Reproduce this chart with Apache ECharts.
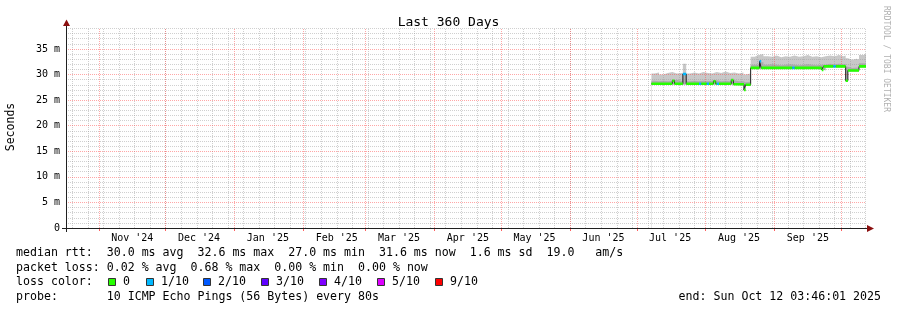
<!DOCTYPE html>
<html><head><meta charset="utf-8">
<script src="https://cdn.jsdelivr.net/npm/echarts@6/dist/echarts.min.js"></script>
<style>html,body{margin:0;padding:0;background:#fff}#c{width:897px;height:310px}</style>
</head><body><div id="c"></div>
<script>
// ---------------- data ----------------
const endTime = '2025-10-12T03:46:01';
const spanDays = 360;
const firstSunday = '2024-10-20T00:00';
const monthStarts = ['2024-11-01','2024-12-01','2025-01-01','2025-02-01','2025-03-01','2025-04-01','2025-05-01','2025-06-01','2025-07-01','2025-08-01','2025-09-01','2025-10-01'];
const monthLabels = ["Nov '24","Dec '24","Jan '25","Feb '25","Mar '25","Apr '25","May '25","Jun '25","Jul '25","Aug '25","Sep '25"];
const yTicks = [0,5,10,15,20,25,30,35];
const yTickLabels = ['0','5 m','10 m','15 m','20 m','25 m','30 m','35 m'];

// median rtt (ms), value holds from its time to the next time; loss: 0 = 0/10, 1 = 1/10
const medianTimes = ['2025-07-07T14:00','2025-07-17T00:00','2025-07-18T00:00','2025-07-21T18:00','2025-07-23T06:00','2025-07-29T00:00','2025-07-30T00:00','2025-08-01T12:00','2025-08-02T12:00','2025-08-04T12:00','2025-08-05T12:00','2025-08-06T00:00','2025-08-07T00:00','2025-08-12T12:00','2025-08-13T12:00','2025-08-18T06:00','2025-08-19T00:00','2025-08-21T06:00','2025-08-25T06:00','2025-08-26T00:00','2025-09-09T00:00','2025-09-10T00:00','2025-09-22T06:00','2025-09-23T00:00','2025-09-27T12:00','2025-09-28T12:00','2025-10-03T00:00','2025-10-04T00:00','2025-10-09T00:00','2025-10-12T03:46'];
const medianValues = [28.2,28.8,28.2,30.1,28.2,28.2,28.2,28.2,28.2,28.7,28.2,28.2,28.2,28.9,28.1,27.0,28.0,31.3,32.6,31.3,31.3,31.3,30.9,31.6,31.6,31.6,28.8,30.8,31.6,31.6];
const medianLoss   = [0,0,0,1,0,1,0,1,0,0,0,1,0,0,0,0,0,0,1,0,1,0,0,0,1,0,0,0,0,0];

// smoke (ms): bottom, top of darker band, top of light band
const smokeTimes = ['2025-07-07T14:00','2025-07-09T00:00','2025-07-11T00:00','2025-07-13T00:00','2025-07-15T00:00','2025-07-17T00:00','2025-07-19T00:00','2025-07-21T18:00','2025-07-23T06:00','2025-07-25T00:00','2025-07-27T00:00','2025-07-29T00:00','2025-07-31T00:00','2025-08-02T00:00','2025-08-04T00:00','2025-08-06T00:00','2025-08-08T00:00','2025-08-10T00:00','2025-08-12T00:00','2025-08-14T00:00','2025-08-16T00:00','2025-08-18T00:00','2025-08-19T00:00','2025-08-21T06:00','2025-08-23T00:00','2025-08-25T00:00','2025-08-27T00:00','2025-08-29T00:00','2025-08-31T00:00','2025-09-02T00:00','2025-09-04T00:00','2025-09-06T00:00','2025-09-08T00:00','2025-09-10T00:00','2025-09-12T00:00','2025-09-14T00:00','2025-09-16T00:00','2025-09-18T00:00','2025-09-20T00:00','2025-09-22T00:00','2025-09-24T00:00','2025-09-26T00:00','2025-09-28T00:00','2025-09-30T00:00','2025-10-02T00:00','2025-10-03T00:00','2025-10-04T00:00','2025-10-06T00:00','2025-10-08T00:00','2025-10-09T00:00','2025-10-11T00:00','2025-10-12T03:46'];
const smokeLow = [28.0,28.0,28.0,28.0,28.0,28.0,28.0,28.0,28.0,28.0,28.0,28.0,28.0,28.0,28.0,28.0,28.0,28.0,28.0,27.9,27.9,26.8,27.8,31.1,31.1,31.1,31.1,31.1,31.1,31.1,31.1,31.1,31.1,31.1,31.1,31.1,31.1,31.1,31.1,30.8,31.4,31.4,31.4,31.4,31.4,28.7,30.6,30.6,30.6,31.4,31.4,31.4];
const smokeMid = [28.8,28.7,28.8,28.7,28.8,29.0,28.7,30.0,28.7,28.8,28.7,28.8,28.7,28.8,28.9,28.7,28.8,28.7,28.9,28.7,28.7,28.5,28.6,31.9,31.9,32.4,31.9,32.0,31.9,31.8,31.9,32.0,31.9,31.8,31.9,32.0,31.9,31.8,31.9,31.9,32.1,32.0,32.1,32.0,32.1,31.5,31.3,31.4,31.3,32.2,32.1,32.1];
const smokeTop = [30.2,30.4,30.0,30.3,30.5,30.2,30.3,32.1,30.2,30.4,30.2,30.5,30.3,30.2,30.5,30.3,30.6,30.3,30.4,30.2,30.4,30.0,30.2,33.5,33.8,34.0,33.6,33.5,33.7,33.4,33.6,33.5,33.7,33.5,33.6,33.8,33.5,33.6,33.4,33.6,33.7,33.6,33.8,33.6,33.7,33.2,32.9,33.1,32.9,33.8,34.0,34.0];

const lossColors = ['#26ff00','#00b8ff','#0059ff','#5e00ff','#7e00ff','#dd00ff','#ff0000'];
const lossNames  = ['0','1/10','2/10','3/10','4/10','5/10','9/10'];
const legendRows = [
  'median rtt:  30.0 ms avg  32.6 ms max  27.0 ms min  31.6 ms now  1.6 ms sd  19.0   am/s',
  'packet loss: 0.02 % avg  0.68 % max  0.00 % min  0.00 % now',
  'loss color:',
  'probe:       10 ICMP Echo Pings (56 Bytes) every 80s'
];
const endLabel = 'end: Sun Oct 12 03:46:01 2025';

// ---------------- build ----------------
const DAY = 86400000;
const ts = s => Date.parse(s.length <= 10 ? s + 'T00:00:00Z' : (s.length === 16 ? s + ':00Z' : s + 'Z'));
const END = ts(endTime);
const START = END - spanDays * DAY;
const monthTs = monthStarts.map(ts);
const labelTs = monthLabels.map((_, i) => monthTs[i] + 15 * DAY);
const weekTs = [];
for (let t = ts(firstSunday); t < END; t += 7 * DAY) weekTs.push(t);

const mT = medianTimes.map(ts);
const medianLine = mT.map((t, i) => [t, medianValues[i]]);
function lossSegments(level) {
  const out = [];
  for (let i = 0; i < mT.length - 1; i++) {
    if (medianLoss[i] === level) {
      out.push([mT[i], medianValues[i]], [mT[i + 1], medianValues[i]], [mT[i + 1], '-']);
    }
  }
  return out;
}
const sT = smokeTimes.map(ts);
const smokeTopPts = sT.map((t, i) => [t, smokeTop[i]]);
const smokeMidPts = sT.map((t, i) => [t, smokeMid[i]]);
const smokeLowPts = sT.map((t, i) => [t, smokeLow[i]]);

const minorY = [];
for (let v = 1; v <= 39; v++) if (v % 5 !== 0) minorY.push(v);
const majorY = yTicks.filter(v => v > 0);

const FONT = 'DejaVu Sans Mono';
const dot = [1, 1];
const gridGrey = 'rgba(150,150,150,0.45)';
const gridRed = 'rgba(255,60,60,0.45)';

const chart = echarts.init(document.getElementById('c'), null, {renderer: 'canvas'});

const graphic = [
  {type: 'text', x: 11, y: 127, rotation: Math.PI / 2,
   style: {text: 'Seconds', fontFamily: FONT, fontSize: 11.5, fill: '#000', align: 'center', verticalAlign: 'middle'}},
  {type: 'text', x: 886, y: 59, rotation: -Math.PI / 2,
   style: {text: 'RRDTOOL / TOBI OETIKER', fontFamily: FONT, fontSize: 8, fill: '#b0b0b0', align: 'center', verticalAlign: 'middle'}},
  {type: 'line', shape: {x1: 62, y1: 228.5, x2: 868, y2: 228.5}, style: {stroke: '#202020', lineWidth: 1}, z: 10},
  {type: 'line', shape: {x1: 66.5, y1: 232, x2: 66.5, y2: 25}, style: {stroke: '#202020', lineWidth: 1}, z: 10},
  {type: 'polygon', shape: {points: [[867, 225], [874, 228.5], [867, 232]]}, style: {fill: '#8b1010'}, z: 10},
  {type: 'polygon', shape: {points: [[63, 26], [66.5, 19.5], [70, 26]]}, style: {fill: '#8b1010'}, z: 10},
  {type: 'text', x: 881, y: 297, style: {text: endLabel, fontFamily: FONT, fontSize: 11.6, fill: '#000', align: 'right', verticalAlign: 'middle'}}
];
const rowY = [253, 268, 282, 297];
legendRows.forEach((txt, i) => graphic.push({type: 'text', x: 16, y: rowY[i],
  style: {text: txt, fontFamily: FONT, fontSize: 11.6, fill: '#000', align: 'left', verticalAlign: 'middle'}}));
const boxX = [108, 146, 203, 261, 319, 377, 435];
lossColors.forEach((c, i) => {
  graphic.push({type: 'rect', shape: {x: boxX[i] + 0.5, y: 278.5, width: 7, height: 7}, style: {fill: c, stroke: '#333', lineWidth: 1}});
  graphic.push({type: 'text', x: boxX[i] + 15, y: 282, style: {text: lossNames[i], fontFamily: FONT, fontSize: 11.6, fill: '#000', align: 'left', verticalAlign: 'middle'}});
});

function smokeSeries(name, pts, color) {
  return {type: 'line', name: name, data: pts, step: 'end', symbol: 'none', z: 1, silent: true,
    lineStyle: {width: 0, opacity: 0}, areaStyle: {color: color, opacity: 1, origin: 'start'}};
}

const option = {
  animation: false,
  backgroundColor: '#fff',
  title: {text: 'Last 360 Days', left: 'center', top: 11,
    textStyle: {fontFamily: FONT, fontSize: 13, fontWeight: 'normal', color: '#000'}},
  grid: {left: 66, top: 28, width: 800, height: 200, containLabel: false},
  xAxis: {
    type: 'value', min: START, max: END,
    splitLine: {show: false},
    axisLine: {show: false},
    axisTick: {show: true, customValues: monthTs, length: 3, lineStyle: {color: '#ff6060'}},
    axisLabel: {customValues: labelTs, margin: 5, fontFamily: FONT, fontSize: 10, color: '#000',
      formatter: v => { const k = labelTs.indexOf(v); return k >= 0 ? monthLabels[k] : ''; }}
  },
  yAxis: {
    type: 'value', min: 0, max: 39.1, interval: 5,
    splitLine: {show: false},
    axisLine: {show: false},
    axisTick: {show: false},
    axisLabel: {margin: 6, fontFamily: FONT, fontSize: 10, color: '#000', showMaxLabel: false,
      formatter: v => { const k = yTicks.indexOf(v); return k >= 0 ? yTickLabels[k] : ''; }}
  },
  graphic: graphic,
  series: [
    smokeSeries('smokeTop', smokeTopPts, '#c8c8c8'),
    smokeSeries('smokeMid', smokeMidPts, '#acacac'),
    smokeSeries('smokeLow', smokeLowPts, '#ffffff'),
    {type: 'line', name: 'minorGrid', data: [], z: 2, silent: true,
     markLine: {silent: true, z: 2, symbol: ['none', 'none'], label: {show: false}, animation: false,
       lineStyle: {type: dot, width: 1, color: gridGrey},
       data: weekTs.map(t => ({xAxis: t})).concat(minorY.map(v => ({yAxis: v})))}},
    {type: 'line', name: 'majorGrid', data: [], z: 2, silent: true,
     markLine: {silent: true, z: 2, symbol: ['none', 'none'], label: {show: false}, animation: false,
       lineStyle: {type: dot, width: 1, color: gridRed},
       data: monthTs.map(t => ({xAxis: t})).concat(majorY.map(v => ({yAxis: v})))}},
    {type: 'line', name: 'median', data: medianLine, step: 'end', symbol: 'none', z: 3,
     lineStyle: {width: 1, color: '#202020'}, silent: true},
    {type: 'line', name: 'loss 0', data: lossSegments(0), symbol: 'none', z: 4, connectNulls: false,
     lineStyle: {width: 2.6, color: lossColors[0], cap: 'butt'}, silent: true},
    {type: 'line', name: 'loss 1/10', data: lossSegments(1), symbol: 'none', z: 4, connectNulls: false,
     lineStyle: {width: 2.6, color: lossColors[1], cap: 'butt'}, silent: true}
  ]
};
chart.setOption(option);
</script>
</body></html>
